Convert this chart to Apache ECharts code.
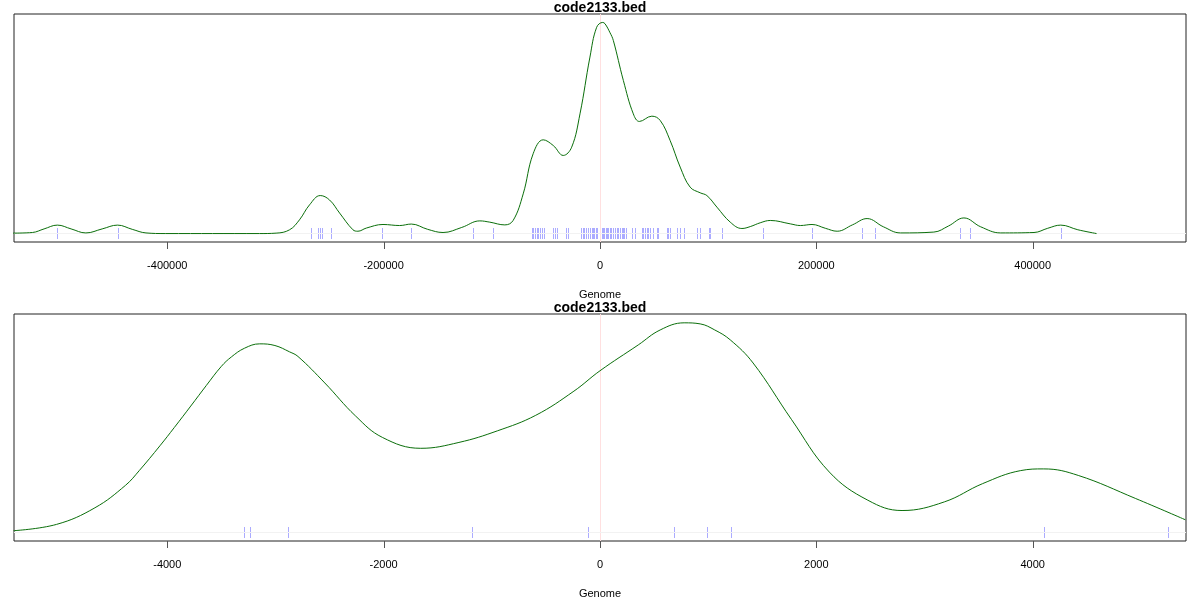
<!DOCTYPE html>
<html>
<head>
<meta charset="utf-8">
<script src="https://cdn.jsdelivr.net/npm/echarts@6/dist/echarts.min.js"></script>
<style>html,body{margin:0;padding:0;background:#fff}#c{width:1200px;height:600px}</style>
</head>
<body>
<div id="c"></div>
<script>
// ---- Top panel (wide view) ----
const topTitle = 'code2133.bed';
const topTicks = [-400000, -200000, 0, 200000, 400000];
const topCurveX = [-542600,-524700,-513900,-501600,-488900,-475300,-460200,-446000,-432400,-419700,-401900,-314800,-299400,-286900,-277800,-268500,-258600,-250000,-240700,-228400,-223800,-216000,-200600,-185200,-174400,-159300,-145100,-127800,-111100,-101900,-88000,-80300,-71000,-61800,-52500,-43200,-34000,-26200,-18500,-9300,-3100,2500,4600,9300,12300,21600,30800,36400,47900,55600,64800,74100,83300,92600,98800,108100,120400,131200,138900,148100,157400,175900,185200,196000,208300,219200,233300,246900,262000,277800,308600,322200,336400,351900,370400,401200,413900,425900,441700,459000];
const topCurveY = [0.002,0.005,0.022,0.040,0.022,0.003,0.022,0.040,0.020,0.003,0,0,0.002,0.018,0.065,0.136,0.180,0.159,0.097,0.018,0.011,0.026,0.043,0.038,0.045,0.020,0.005,0.029,0.060,0.054,0.041,0.062,0.188,0.378,0.444,0.417,0.370,0.409,0.567,0.836,0.977,1.000,0.994,0.951,0.915,0.725,0.567,0.531,0.556,0.536,0.441,0.315,0.220,0.193,0.180,0.125,0.054,0.024,0.033,0.051,0.062,0.046,0.038,0.043,0.025,0.011,0.041,0.071,0.032,0.003,0.007,0.036,0.074,0.032,0.003,0.005,0.025,0.040,0.018,0.000];
const topRug = [-501600,-446000,-267300,-260800,-258800,-257400,-248800,-201600,-174300,-117300,-98800,-63200,-61800,-60200,-58600,-57100,-55600,-54000,-51900,-43800,-41700,-39500,-31500,-29400,-17900,-16000,-14500,-13000,-10800,-9300,-7700,-6200,-5300,-3700,-2500,1600,3100,4000,5300,6500,7700,9000,10200,12300,13900,16000,16900,18200,20100,21000,22200,24100,29400,32400,38600,40100,41700,43200,44700,46300,49400,52500,53700,62000,63200,64800,71000,74100,78100,90100,92600,100300,101900,112500,150300,196000,241900,254000,332700,341900,426200];
const topRange = [-541700, 541700];

// ---- Bottom panel (zoomed view) ----
const botTitle = 'code2133.bed';
const botTicks = [-4000, -2000, 0, 2000, 4000];
const botCurveX = [-5421,-5024,-4669,-4386,-4259,-4068,-3935,-3783,-3639,-3500,-3407,-3287,-3146,-3005,-2870,-2792,-2544,-2260,-2012,-1657,-1304,-949,-594,-241,0,354,556,778,926,1061,1204,1415,1769,2120,2476,2792,3183,3537,3889,4102,4421,4952,5411];
const botCurveY = [0.009,0.039,0.118,0.225,0.295,0.413,0.500,0.602,0.700,0.791,0.836,0.877,0.898,0.890,0.860,0.838,0.712,0.555,0.453,0.401,0.429,0.484,0.558,0.673,0.770,0.893,0.964,0.998,0.993,0.964,0.917,0.807,0.539,0.288,0.154,0.105,0.146,0.233,0.295,0.303,0.272,0.162,0.061];
const botRug = [-3290,-3240,-2880,-1185,-115,680,990,1210,4105,5250];
const botRange = [-5417, 5417];

const axisName = 'Genome';
const FONT = 'Liberation Sans, Arial, sans-serif';
const Y_MIN = -0.04, Y_MAX = 1.04;

function zip(a, b) { return a.map((v, i) => [v, b[i]]); }

function xAxisCfg(idx, range, ticks) {
  return {
    type: 'value', gridIndex: idx, min: range[0], max: range[1], position: 'bottom',
    name: axisName, nameLocation: 'middle', nameGap: 47,
    nameTextStyle: { color: '#000', fontSize: 11, fontFamily: FONT },
    axisLine: { show: false, onZero: false },
    splitLine: { show: false },
    axisTick: { show: false },
    axisLabel: { show: true, inside: false, customValues: ticks, margin: 18, color: '#000', fontSize: 11, fontFamily: FONT,
      formatter: v => String(v) }
  };
}
function yAxisCfg(idx) {
  return { type: 'value', gridIndex: idx, min: Y_MIN, max: Y_MAX, show: false };
}
function curveSeries(idx, xs, ys) {
  return {
    type: 'line', xAxisIndex: idx, yAxisIndex: idx, data: zip(xs, ys),
    showSymbol: false, smooth: 0.4, silent: true,
    lineStyle: { color: '#0a6e0a', width: 1 }, z: 5,
    markLine: {
      silent: true, symbol: 'none', label: { show: false },
      data: [
        { xAxis: 0, lineStyle: { color: '#ffe0e0', width: 1, type: 'solid' } },
        { yAxis: 0, lineStyle: { color: '#f2f2f2', width: 1, type: 'solid' } }
      ]
    }
  };
}
function rugSeries(idx, vals) {
  return {
    type: 'custom', xAxisIndex: idx, yAxisIndex: idx, silent: true, z: 4,
    data: vals.map(v => [v]),
    renderItem: function (params, api) {
      const x = api.value(0);
      const p0 = api.coord([x, -0.025]);
      const p1 = api.coord([x, 0.027]);
      const px = Math.round(p0[0]) + 0.5;
      return { type: 'line', shape: { x1: px, y1: Math.round(p0[1]), x2: px, y2: Math.round(p1[1]) },
        style: { stroke: 'rgba(0,0,255,0.33)', lineWidth: 1 } };
    }
  };
}
// axis tick marks below the box, positioned through the x scale
function tickSeries(idx, vals) {
  return {
    type: 'custom', xAxisIndex: idx, yAxisIndex: idx, silent: true, clip: false, z: 6,
    data: vals.map(v => [v]),
    renderItem: function (params, api) {
      const p = api.coord([api.value(0), Y_MIN]);
      const px = Math.round(p[0]) + 0.5;
      return { type: 'line', shape: { x1: px, y1: p[1], x2: px, y2: p[1] + 7 },
        style: { stroke: '#555', lineWidth: 1 } };
    }
  };
}

const chart = echarts.init(document.getElementById('c'), null, { renderer: 'canvas' });
chart.setOption({
  animation: false,
  backgroundColor: '#fff',
  title: [
    { text: topTitle, left: 'center', top: -4, textStyle: { fontSize: 14, fontWeight: 'bold', color: '#000', fontFamily: FONT } },
    { text: botTitle, left: 'center', top: 296, textStyle: { fontSize: 14, fontWeight: 'bold', color: '#000', fontFamily: FONT } }
  ],
  grid: [
    { left: 14, right: 14, top: 14, height: 228, show: true, borderColor: '#222', borderWidth: 1, backgroundColor: 'transparent' },
    { left: 14, right: 14, top: 314, height: 228, show: true, borderColor: '#222', borderWidth: 1, backgroundColor: 'transparent' }
  ],
  xAxis: [xAxisCfg(0, topRange, topTicks), xAxisCfg(1, botRange, botTicks)],
  yAxis: [yAxisCfg(0), yAxisCfg(1)],
  series: [
    curveSeries(0, topCurveX, topCurveY),
    rugSeries(0, topRug),
    tickSeries(0, topTicks),
    curveSeries(1, botCurveX, botCurveY),
    rugSeries(1, botRug),
    tickSeries(1, botTicks)
  ]
});
</script>
</body>
</html>
